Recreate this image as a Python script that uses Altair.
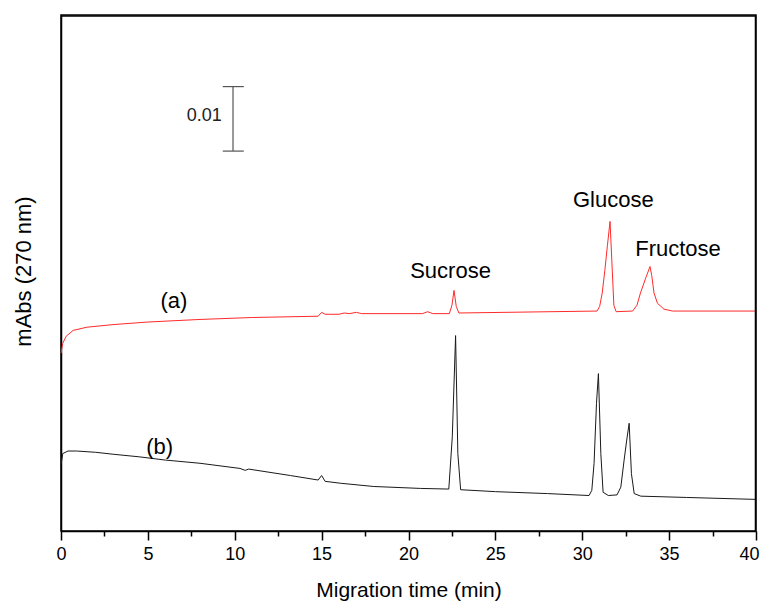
import altair as alt
import pandas as pd

# Trace (a) - red
t_a = [0, 0.1, 0.3, 0.7, 1.5, 3, 5, 8, 11, 14.8, 15.0, 15.2, 16.0, 16.3, 16.6, 17.0, 17.3,
       20.8, 21.1, 21.4, 22.35, 22.5, 22.62, 22.75, 22.9, 30.85, 31.0, 31.15, 31.3, 31.45,
       31.6, 31.7, 31.82, 31.95, 32.9, 33.15, 33.35, 33.65, 33.9, 34.0, 34.13, 34.33, 34.7,
       35.2, 40]
v_a = [0.02755, 0.0291, 0.0302, 0.0311, 0.0316, 0.0320, 0.0324, 0.0328, 0.0331, 0.0333,
       0.0339, 0.0336, 0.0336, 0.0338, 0.0337, 0.0339, 0.0337, 0.0337, 0.0340, 0.0337,
       0.0337, 0.0350, 0.0373, 0.0348, 0.0338, 0.0341, 0.0348, 0.0369, 0.0404, 0.0443,
       0.0480, 0.0420, 0.0350, 0.0340, 0.0341, 0.0350, 0.0369, 0.0392, 0.0410, 0.0396,
       0.0369, 0.0353, 0.0344, 0.0341, 0.0341]

# Trace (b) - black
t_b = [0, 0.1, 0.4, 0.9, 2, 3, 4.5, 6, 8, 10.3, 10.6, 10.8, 13.2, 14.8, 15.0, 15.2, 16.1,
       18, 20.7, 22.32, 22.52, 22.71, 22.84, 23.0, 25, 28, 30.39, 30.55, 30.68, 30.82,
       30.93, 31.07, 31.2, 31.5, 32.0, 32.22, 32.41, 32.56, 32.70, 32.83, 32.99, 33.37,
       36, 40]
v_b = [0.0102, 0.0120, 0.0124, 0.0124, 0.0122, 0.0119, 0.0115, 0.0110, 0.0105, 0.0097,
       0.0094, 0.0096, 0.0086, 0.0079, 0.0086, 0.0077, 0.0074, 0.0069, 0.0066, 0.0065,
       0.0146, 0.0303, 0.0120, 0.0064, 0.0061, 0.0058, 0.0055, 0.0063, 0.0105, 0.0198,
       0.0244, 0.0120, 0.0060, 0.0055, 0.0056, 0.0068, 0.0110, 0.0141, 0.0167, 0.0089,
       0.0058, 0.0054, 0.0052, 0.0049]

# Annotations
ann_text = ["(a)", "(b)", "Sucrose", "Glucose", "Fructose"]
ann_t = [6.5, 5.68, 22.42, 31.79, 35.51]
ann_v = [0.0346, 0.0120, 0.0393, 0.0502, 0.0427]

# Scale bar (0.01 AU)
bar_t = [9.90]
bar_lo = [0.0589]
bar_hi = [0.0689]
cap_t1 = [9.31, 9.31]
cap_t2 = [10.52, 10.52]
cap_v = [0.0689, 0.0589]
bar_label = ["0.01"]
bar_label_t = [9.26]
bar_label_v = [0.0636]

x_ticks = [0, 2.5, 5, 7.5, 10, 12.5, 15, 17.5, 20, 22.5, 25, 27.5, 30, 32.5, 35, 37.5, 40]

# frame path (top edge then right edge), just inside the axis limits
frame_x = [0, 39.97, 39.97]
frame_y = [0.07985, 0.07985, 0.0]
frame_order = [0, 1, 2]

FONT = "Liberation Sans"
W, H = 695, 516

xs = alt.Scale(domain=[0, 40], nice=False, zero=False)
ys = alt.Scale(domain=[0, 0.08], nice=False, zero=False)

x_axis = alt.Axis(
    values=x_ticks,
    labelExpr="datum.value % 5 === 0 ? datum.label : ''",
    tickSize={"condition": {"test": "datum.value % 5 === 0", "value": 9}, "value": 5},
    labelOffset={"condition": {"test": "datum.value === 40", "value": -7}, "value": 0},
    tickColor="black", tickWidth=1.5, domainColor="black", domainWidth=1.5,
    grid=False, labelFont=FONT, labelFontSize=18, labelColor="black", labelPadding=5,
    labelFlush=False,
    title="Migration time (min)", titleFont=FONT, titleFontSize=21, titleFontWeight="normal",
    titleColor="black", titleBaseline="alphabetic", titleY=65,
)
y_axis = alt.Axis(
    ticks=False, labels=False, grid=False, domainColor="black", domainWidth=1.5,
    title="mAbs (270 nm)", titleFont=FONT, titleFontSize=22, titleFontWeight="normal",
    titleColor="black", titleX=-26, titleY=256,
)

df_a = pd.DataFrame({"t": t_a, "v": v_a})
df_b = pd.DataFrame({"t": t_b, "v": v_b})

line_a = alt.Chart(df_a).mark_line(color="#ff2a2a", strokeWidth=1).encode(
    x=alt.X("t:Q", scale=xs, axis=x_axis),
    y=alt.Y("v:Q", scale=ys, axis=y_axis),
)
line_b = alt.Chart(df_b).mark_line(color="#1a1a1a", strokeWidth=1).encode(
    x=alt.X("t:Q", scale=xs),
    y=alt.Y("v:Q", scale=ys),
)

df_ann = pd.DataFrame({"txt": ann_text, "t": ann_t, "v": ann_v})
ann = alt.Chart(df_ann).mark_text(
    font=FONT, fontSize=22, color="black", align="center", baseline="alphabetic"
).encode(x=alt.X("t:Q", scale=xs), y=alt.Y("v:Q", scale=ys), text="txt:N")

df_bar = pd.DataFrame({"t": bar_t, "lo": bar_lo, "hi": bar_hi})
bar = alt.Chart(df_bar).mark_rule(color="#555555", strokeWidth=1.2).encode(
    x=alt.X("t:Q", scale=xs), y=alt.Y("lo:Q", scale=ys), y2="hi:Q"
)
df_cap = pd.DataFrame({"t1": cap_t1, "t2": cap_t2, "v": cap_v})
caps = alt.Chart(df_cap).mark_rule(color="#555555", strokeWidth=1.2).encode(
    x=alt.X("t1:Q", scale=xs), x2="t2:Q", y=alt.Y("v:Q", scale=ys)
)
df_bl = pd.DataFrame({"txt": bar_label, "t": bar_label_t, "v": bar_label_v})
bar_txt = alt.Chart(df_bl).mark_text(
    font=FONT, fontSize=18, color="#222222", align="right", baseline="alphabetic"
).encode(x=alt.X("t:Q", scale=xs), y=alt.Y("v:Q", scale=ys), text="txt:N")

df_frame = pd.DataFrame({"fx": frame_x, "fy": frame_y, "o": frame_order})
frame = alt.Chart(df_frame).mark_line(color="black", strokeWidth=1.5).encode(
    x=alt.X("fx:Q", scale=xs),
    y=alt.Y("fy:Q", scale=ys),
    order="o:Q",
)

chart = alt.layer(line_a, line_b, bar, caps, bar_txt, ann, frame).properties(
    width=W, height=H,
    autosize=alt.AutoSizeParams(type="none"),
    padding={"left": 53, "top": 7, "right": 4, "bottom": 71},
).configure(background="white").configure_view(stroke="black", strokeWidth=1.5)

chart.save("out.html", embed_options={"renderer": "svg", "actions": False})
